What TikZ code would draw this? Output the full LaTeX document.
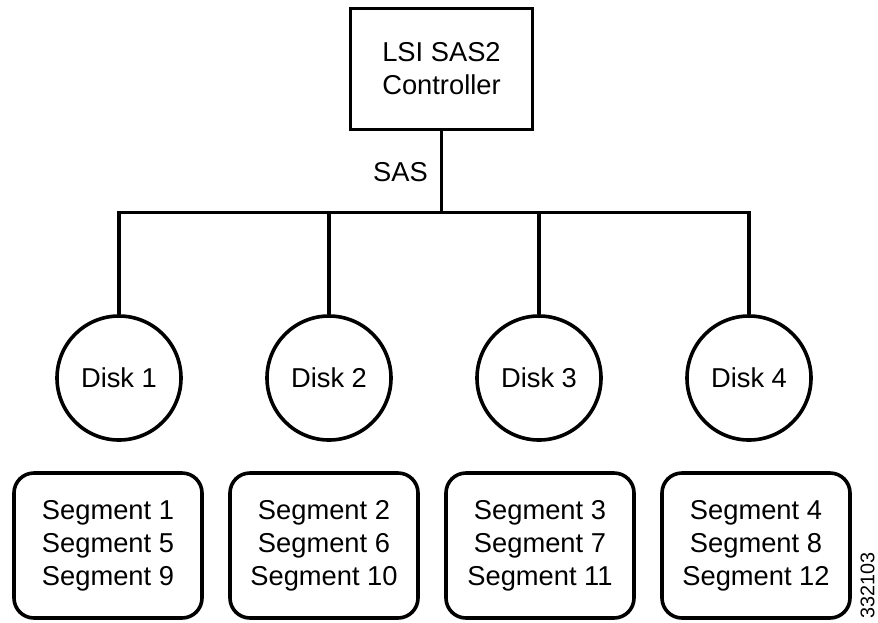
\documentclass[tikz,border=0pt]{standalone}
\usepackage{fontspec}
\setmainfont{Liberation Sans}
\usepackage{tikz}
\usetikzlibrary{positioning}
\newcommand{\diagfont}{\fontsize{27.3pt}{33pt}\selectfont}
\tikzset{
  ctrlbox/.style={draw, line width=3.6pt, rectangle, minimum width=182pt, minimum height=121pt, align=center, font=\diagfont},
  disk/.style={draw, line width=3.6pt, circle, minimum size=124pt, inner sep=0pt, font=\diagfont},
  segbox/.style={draw, line width=3.6pt, rectangle, rounded corners=20pt, minimum width=188pt, minimum height=145pt, align=center, font=\diagfont},
  wire/.style={line width=3.4pt}
}
\begin{document}
\begin{tikzpicture}[x=1pt, y=-1pt]
\useasboundingbox (0,0) rectangle (878,622);

% nodes
\node[ctrlbox] (ctrl) at (441.5,69) {LSI SAS2\\Controller};
\coordinate (bus) at (0,212.5);

\node[disk] (disk1) at (119,378) {Disk 1};
\node[disk, on grid, right=210pt of disk1] (disk2) {Disk 2};
\node[disk, on grid, right=210pt of disk2] (disk3) {Disk 3};
\node[disk, on grid, right=210pt of disk3] (disk4) {Disk 4};

\node[segbox] (seg1) at (108,545.5) {Segment 1\\Segment 5\\Segment 9};
\node[segbox, on grid, right=216pt of seg1] (seg2) {Segment 2\\Segment 6\\Segment 10};
\node[segbox, on grid, right=216pt of seg2] (seg3) {Segment 3\\Segment 7\\Segment 11};
\node[segbox, on grid, right=216pt of seg3] (seg4) {Segment 4\\Segment 8\\Segment 12};

\node[rotate=90, font=\fontsize{19.8pt}{22pt}\selectfont, inner sep=0pt] (figid) at (867.5,585) {332103};

% wires
\draw[wire] (ctrl.south) -- node[left=12pt, inner sep=0pt, font=\diagfont] (sas) {SAS} (ctrl.south |- bus);
\draw[wire] (disk1.north) |- (bus -| disk4.north) -- (disk4.north);
\draw[wire] (disk2.north) -- (disk2.north |- bus);
\draw[wire] (disk3.north) -- (disk3.north |- bus);

\end{tikzpicture}
\end{document}
